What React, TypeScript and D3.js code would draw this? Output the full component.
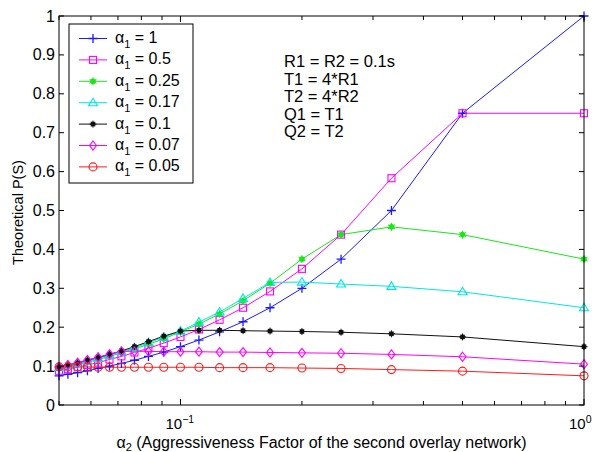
import React, { useEffect, useRef } from "react";
import * as d3 from "d3";

// alpha2 values (x axis, log scale)
const alpha2 = [0.05, 0.0526, 0.0556, 0.0588, 0.0625, 0.0667, 0.0714, 0.0769, 0.0833, 0.0909, 0.1, 0.1111, 0.125, 0.1429, 0.1667, 0.2, 0.25, 0.3333, 0.5, 1];

const seriesNames = ["1", "0.5", "0.25", "0.17", "0.1", "0.07", "0.05"];
const seriesColors = ["#1a1aff", "#ff00ff", "#19e619", "#00e6e6", "#111111", "#ff00ff", "#ff1a1a"];
const seriesMarkers = ["plus", "square", "hexagram", "triangle", "star", "diamond", "circle"];

const p1 = [0.075, 0.079, 0.083, 0.088, 0.094, 0.1, 0.107, 0.115, 0.125, 0.136, 0.15, 0.167, 0.188, 0.214, 0.25, 0.3, 0.375, 0.5, 0.75, 1.0];
const p05 = [0.088, 0.092, 0.097, 0.103, 0.109, 0.117, 0.125, 0.135, 0.146, 0.159, 0.175, 0.194, 0.219, 0.25, 0.292, 0.35, 0.438, 0.583, 0.75, 0.75];
const p025 = [0.094, 0.099, 0.104, 0.11, 0.117, 0.125, 0.134, 0.144, 0.156, 0.17, 0.188, 0.208, 0.234, 0.268, 0.313, 0.375, 0.438, 0.458, 0.438, 0.375];
const p017 = [0.096, 0.101, 0.106, 0.113, 0.12, 0.128, 0.137, 0.147, 0.16, 0.174, 0.19, 0.213, 0.239, 0.274, 0.315, 0.316, 0.311, 0.305, 0.291, 0.25];
const p01 = [0.098, 0.103, 0.108, 0.115, 0.122, 0.13, 0.139, 0.15, 0.163, 0.177, 0.19, 0.192, 0.192, 0.191, 0.19, 0.189, 0.187, 0.183, 0.175, 0.15];
const p007 = [0.098, 0.103, 0.109, 0.116, 0.123, 0.131, 0.138, 0.138, 0.138, 0.137, 0.137, 0.137, 0.136, 0.136, 0.135, 0.134, 0.133, 0.13, 0.124, 0.105];
const p005 = [0.098, 0.098, 0.098, 0.098, 0.097, 0.097, 0.097, 0.097, 0.097, 0.097, 0.097, 0.097, 0.096, 0.096, 0.096, 0.095, 0.094, 0.091, 0.087, 0.075];
const allSeries = [p1, p05, p025, p017, p01, p007, p005];

const yTicks = [0, 0.1, 0.2, 0.3, 0.4, 0.5, 0.6, 0.7, 0.8, 0.9, 1];
const xMajor = [0.1, 1];
const xMinor = [0.05, 0.06, 0.07, 0.08, 0.09, 0.2, 0.3, 0.4, 0.5, 0.6, 0.7, 0.8, 0.9];
const notes = ["R1 = R2 = 0.1s", "T1 = 4*R1", "T2 = 4*R2", "Q1 = T1", "Q2 = T2"];

const FONT = "'Liberation Sans', Arial, Helvetica, sans-serif";

function drawMarker(g: any, type: string, x: number, y: number, color: string) {
  const s = 3.5;
  if (type === "plus") {
    g.append("path").attr("d", `M${x - 4.5},${y}H${x + 4.5}M${x},${y - 4.5}V${y + 4.5}`)
      .attr("stroke", color).attr("stroke-width", 1.3);
  } else if (type === "square") {
    g.append("rect").attr("x", x - s).attr("y", y - s).attr("width", 2 * s).attr("height", 2 * s)
      .attr("fill", "none").attr("stroke", color).attr("stroke-width", 1.1);
  } else if (type === "circle") {
    g.append("circle").attr("cx", x).attr("cy", y).attr("r", 4)
      .attr("fill", "none").attr("stroke", color).attr("stroke-width", 1.1);
  } else if (type === "diamond") {
    g.append("path").attr("d", `M${x},${y - 4.5}L${x + 3.5},${y}L${x},${y + 4.5}L${x - 3.5},${y}Z`)
      .attr("fill", "none").attr("stroke", color).attr("stroke-width", 1.1);
  } else if (type === "triangle") {
    g.append("path").attr("d", `M${x},${y - 4.5}L${x + 4.5},${y + 3}L${x - 4.5},${y + 3}Z`)
      .attr("fill", "none").attr("stroke", color).attr("stroke-width", 1.1);
  } else if (type === "hexagram") {
    g.append("circle").attr("cx", x).attr("cy", y).attr("r", 2.8).attr("fill", color);
    g.append("path").attr("d", `M${x},${y - 4}V${y + 4}M${x - 3.5},${y - 2}L${x + 3.5},${y + 2}M${x - 3.5},${y + 2}L${x + 3.5},${y - 2}`)
      .attr("stroke", color).attr("stroke-width", 1);
  } else if (type === "star") {
    g.append("rect").attr("x", x - 2.3).attr("y", y - 2.3).attr("width", 4.6).attr("height", 4.6).attr("fill", color);
    g.append("path").attr("d", `M${x - 3.5},${y}H${x + 3.5}M${x},${y - 3.5}V${y + 3.5}`)
      .attr("stroke", color).attr("stroke-width", 1);
  }
}

const App = () => {
  const svgRef = useRef<SVGSVGElement>(null);

  useEffect(() => {
    const svg = d3.select(svgRef.current);
    svg.selectAll("*").remove();

    const left = 59, right = 584, top = 16, bottom = 405;
    const x = d3.scaleLog().domain([0.05, 1]).range([left, right]);
    const y = d3.scaleLinear().domain([0, 1]).range([bottom, top]);

    svg.append("rect").attr("width", 594).attr("height", 452).attr("fill", "#fff");

    // lines and markers
    const plot = svg.append("g");
    const line = d3.line<number>().x((d, i) => x(alpha2[i])).y((d) => y(d));
    allSeries.forEach((vals, k) => {
      plot.append("path").datum(vals).attr("d", line).attr("fill", "none")
        .attr("stroke", seriesColors[k]).attr("stroke-width", 1);
    });
    allSeries.forEach((vals, k) => {
      vals.forEach((v, i) => drawMarker(plot, seriesMarkers[k], x(alpha2[i]), y(v), seriesColors[k]));
    });

    // axes box and ticks
    const ax = svg.append("g").attr("stroke", "#000").attr("stroke-width", 1);
    ax.append("rect").attr("x", left).attr("y", top).attr("width", right - left).attr("height", bottom - top)
      .attr("fill", "none");
    yTicks.forEach((t) => {
      ax.append("line").attr("x1", left).attr("x2", left + 5).attr("y1", y(t)).attr("y2", y(t));
      ax.append("line").attr("x1", right).attr("x2", right - 5).attr("y1", y(t)).attr("y2", y(t));
    });
    xMajor.concat(xMinor).forEach((t) => {
      const len = xMajor.includes(t) ? 6 : 4;
      ax.append("line").attr("x1", x(t)).attr("x2", x(t)).attr("y1", bottom).attr("y2", bottom - len);
      ax.append("line").attr("x1", x(t)).attr("x2", x(t)).attr("y1", top).attr("y2", top + len);
    });

    // tick labels
    const txt = svg.append("g").attr("font-family", FONT).attr("fill", "#000");
    yTicks.forEach((t) => {
      txt.append("text").attr("x", left - 4).attr("y", y(t) + 5.5).attr("text-anchor", "end")
        .attr("font-size", 16).text(d3.format("~g")(t));
    });
    xMajor.forEach((t) => {
      const e = Math.round(Math.log10(t));
      const tx = txt.append("text").attr("x", x(t) - 15).attr("y", 428.5).attr("font-size", 15);
      tx.append("tspan").text("10");
      tx.append("tspan").attr("dy", -6).attr("font-size", 10.5).text(e === 0 ? "0" : "\u2212" + Math.abs(e));
    });

    // axis titles
    const xl = txt.append("text").attr("x", (left + right) / 2).attr("y", 447.5).attr("text-anchor", "middle").attr("font-size", 16);
    xl.append("tspan").text("\u03b1");
    xl.append("tspan").attr("dy", 3).attr("font-size", 11).text("2");
    xl.append("tspan").attr("dy", -3).text(" (Aggressiveness Factor of the second overlay network)");

    txt.append("text").attr("transform", `translate(23,${(top + bottom) / 2 + 2}) rotate(-90)`)
      .attr("text-anchor", "middle").attr("font-size", 14.5).text("Theoretical P(S)");

    // annotation
    notes.forEach((n, i) => {
      txt.append("text").attr("x", 284).attr("y", 67 + i * 17.6).attr("font-size", 16.5).text(n);
    });

    // legend
    const lg = svg.append("g");
    lg.append("rect").attr("x", 69).attr("y", 24).attr("width", 124).attr("height", 159)
      .attr("fill", "#fff").attr("stroke", "#000").attr("stroke-width", 1);
    seriesNames.forEach((name, k) => {
      const cy = 38.5 + k * 21.4;
      lg.append("line").attr("x1", 79).attr("x2", 107).attr("y1", cy).attr("y2", cy)
        .attr("stroke", seriesColors[k]).attr("stroke-width", 1);
      drawMarker(lg, seriesMarkers[k], 93, cy, seriesColors[k]);
      const t = lg.append("text").attr("x", 115).attr("y", cy + 4.5).attr("font-family", FONT).attr("font-size", 16);
      t.append("tspan").text("\u03b1");
      t.append("tspan").attr("dy", 5).attr("font-size", 11).text("1");
      t.append("tspan").attr("dy", -5).text(" = " + name);
    });
  }, []);

  return (
    <svg ref={svgRef} width={594} height={452}
      style={{ position: "absolute", left: 0, top: 0, display: "block" }}></svg>
  );
};

export default App;
